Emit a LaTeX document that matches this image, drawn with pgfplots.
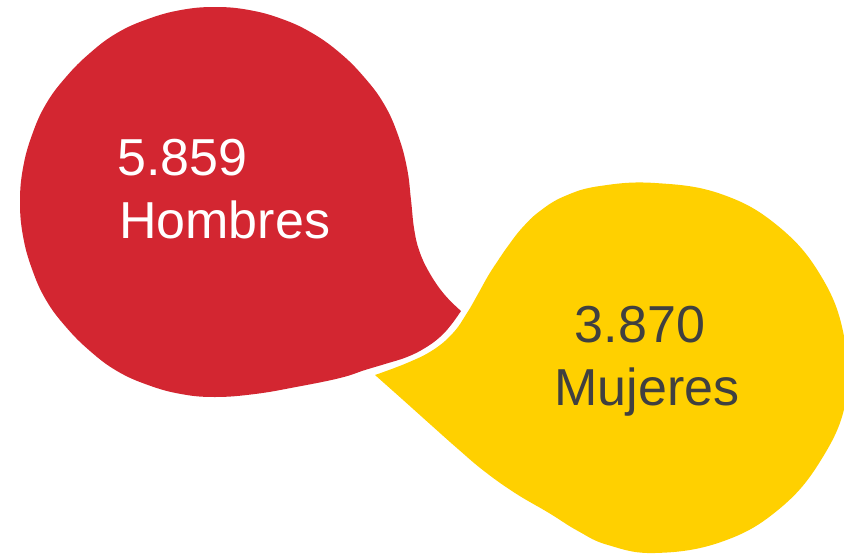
\documentclass[border=0pt]{standalone}
\usepackage{pgfplots}
\pgfplotsset{compat=1.18}
\usepackage{fontspec}
\setmainfont{Liberation Sans}
\definecolor{rojo}{HTML}{D32631}
\definecolor{amarillo}{HTML}{FFD000}
\definecolor{gristexto}{HTML}{404040}

\begin{document}
\begin{tikzpicture}
\begin{axis}[
    width=844pt, height=555pt, scale only axis,
    xmin=0, xmax=844, ymin=0, ymax=555,
    y dir=reverse,
    hide axis, clip=true,
]
% Hombres bubble
\addplot[fill=rojo, draw=none, smooth, tension=0.7] coordinates {
  (461,311) (451,325) (440,337) (425,348) (407,357) (385,364)
  (365,370) (340,378) (296,387) (255,394) (215,397) (181,394)
  (148,385) (117,371) (90,351) (66,327) (46,300) (32,269)
  (23,236) (20,202) (23,168) (32,135) (46,104) (66,77)
  (90,53) (117,33) (148,19) (181,10) (215,7) (249,10)
  (282,19) (312,33) (340,53) (364,77) (384,104) (398,135)
  (407,168) (411,200) (414,228) (419,250) (429,272) (444,294)
  (461,311)
} -- cycle;
% Mujeres bubble
\addplot[fill=amarillo, draw=none, smooth, tension=0.7] coordinates {
  (375,375) (407,363) (433,350) (453,333) (467,313) (478,294)
  (488,276) (497,262) (508,246) (522,228) (540,211) (565,196)
  (600,186) (655,183) (721,194) (778,226) (821,276) (844,336)
  (846,400) (821,460) (778,510) (721,542) (655,553) (608,545)
  (578,531) (549,513) (515,493) (484,471) (458,449) (431,425)
  (402,399) (375,375)
} -- cycle;
\node[anchor=base west, text=white, font=\fontsize{52}{60}\selectfont, inner sep=0pt] at (axis cs:117,175) {5.859};
\node[anchor=base west, text=white, font=\fontsize{52}{60}\selectfont, inner sep=0pt] at (axis cs:119,238) {Hombres};
\node[anchor=base, text=gristexto, font=\fontsize{52}{60}\selectfont, inner sep=0pt] at (axis cs:640,342) {3.870};
\node[anchor=base, text=gristexto, font=\fontsize{52}{60}\selectfont, inner sep=0pt] at (axis cs:647,405) {Mujeres};
\end{axis}
\pgfresetboundingbox
\path[use as bounding box] (current axis.south west) rectangle (current axis.north east);
\end{tikzpicture}
\end{document}
